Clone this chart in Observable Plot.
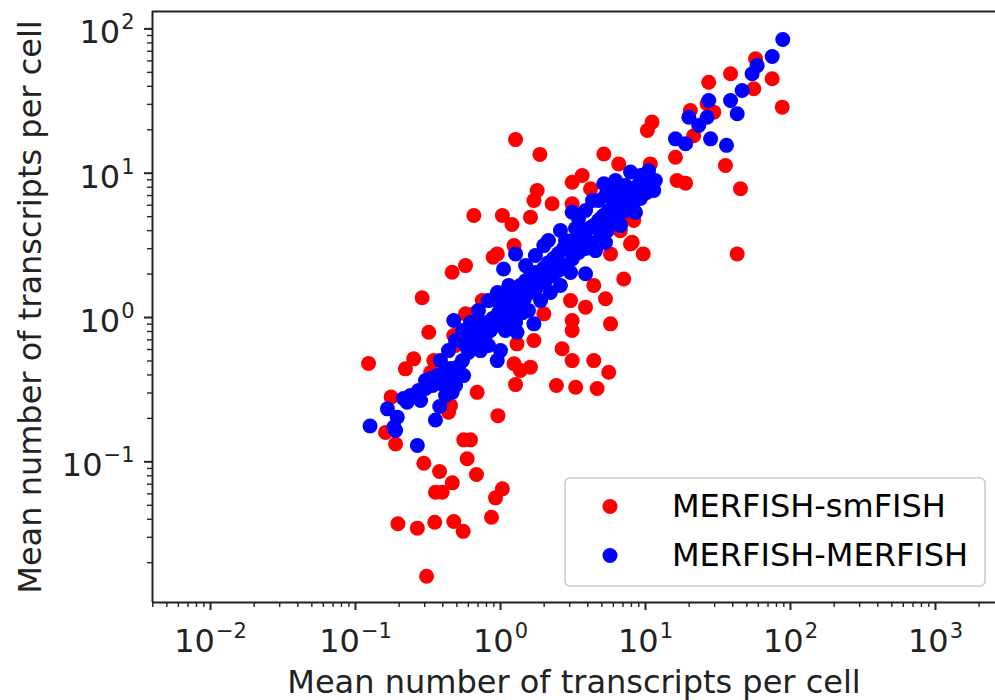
<!DOCTYPE html>
<html><head><meta charset="utf-8">
<script src="https://cdn.jsdelivr.net/npm/d3@7"></script>
<script src="https://cdn.jsdelivr.net/npm/@observablehq/plot@0.6"></script>
<style>body{margin:0;background:#fff}</style>
</head><body><div id="chart"></div>
<script>
const seriesNames = ["MERFISH-smFISH", "MERFISH-MERFISH"];
const seriesColors = ["#ff0000", "#0000ff"];
const axisLabel = "Mean number of transcripts per cell";
const xMajorTicks = [0.01, 0.1, 1, 10, 100, 1000];
const yMajorTicks = [0.1, 1, 10, 100];
const xDomain = [0.00398, 2594];
const yDomain = [0.0106, 132];

// MERFISH vs smFISH
const smfishX = [0.123,0.176,0.161,0.189,0.69,1.27,2.43,3.30,4.64,0.96,0.452,0.438,0.558,0.621,0.589,0.683,0.296,0.380,0.465,0.356,0.396,1.03,0.924,0.867,0.196,0.267,0.352,0.476,0.553,0.309,
1.27,1.87,5.16,6.54,11.1,10.3,16.1,16.5,18.9,3.66,3.12,4.18,1.79,1.70,1.61,2.27,0.655,1.03,1.20,3.12,7.28,7.88,9.64,5.74,7.08,4.40,5.30,1.24,0.89,0.95,0.464,0.574,0.288,0.748,1.03,3.04,3.86,3.12,3.12,5.74,1.70,2.66,3.12,4.40,5.58,1.24,1.61,1.37,0.32,0.476,0.252,0.221,0.347,0.574,0.655,1.99,1.30,10.8,6.04,8.3,
27.3,38.6,20.4,26.6,29.6,21.5,35.6,45.2,42.9,57.4,55.8,74.8,87.7,8.1,2.14,4.9,0.49,1.37,3.86,6.7,0.33,0.705];
const smfishY = [0.48,0.281,0.160,0.133,0.303,0.343,0.338,0.329,0.322,0.209,0.245,0.221,0.142,0.142,0.105,0.0817,0.0977,0.0857,0.0715,0.0615,0.0615,0.065,0.0563,0.0413,0.0372,0.0347,0.0381,0.0386,0.033,0.0161,
17.1,13.5,13.6,11.6,22.6,19.8,12.9,8.9,8.53,9.64,8.66,7.8,7.59,6.47,4.96,6.14,5.09,5.09,4.41,6.14,4.96,3.24,2.76,2.76,1.85,1.67,1.35,3.15,2.62,2.76,2.06,2.29,1.37,1.31,1.46,1.31,1.18,0.953,0.813,0.904,0.693,0.607,0.503,0.503,0.418,0.478,0.453,0.430,0.791,0.75,0.517,0.441,0.503,1.06,1.06,1.06,0.657,11.6,7.8,4.70,
42.7,48.9,27.2,30.3,26.5,18.2,11.3,7.8,2.76,62.1,38.5,45.1,28.7,3.32,2.12,4.85,0.64,1.31,3.42,4.0,0.416,0.81];

// MERFISH vs MERFISH
const merfishX = [0.126,0.166,0.194,0.184,0.189,0.267,0.356,0.381,0.227,0.267,0.464,0.304,0.340,0.385,0.431,0.49,1.27,1.05,1.99,0.476,2.59,3.12,3.86,5.16,6.21,7.88,10.5,11.4,1.0,0.95,1.30,1.70,
88.5,74.8,58.9,54.4,46.4,38.6,42.9,27.3,19.9,23.3,26.6,16.1,18.9,28.1,36.2,
0.214,0.239,0.272,0.304,0.329,0.368,0.411,0.452,0.513,0.556,0.49,0.418,0.281,
0.547,0.601,0.641,0.705,0.788,0.853,0.924,0.621,0.728,0.826,0.574,0.683,0.763,0.881,0.969,
1.0,1.08,1.17,1.27,1.37,1.49,1.61,1.74,1.07,1.21,1.33,1.46,1.61,1.77,1.89,1.14,1.42,
1.98,2.14,2.32,2.51,2.72,2.94,3.19,3.45,3.74,4.05,2.04,2.28,2.51,2.81,3.14,3.45,3.86,4.18,2.81,3.29,
4.38,4.74,5.13,5.56,6.01,6.52,7.05,7.64,8.26,8.95,9.69,4.90,5.47,5.92,6.52,7.28,8.13,9.24,10.2,10.8,11.7,4.74,5.30,5.74,6.73,9.24,
0.49,0.438,0.385,0.705,0.826,0.953,1.08,1.27,1.56,1.89,2.21,1.49,1.74,2.14,2.59,3.04,4.52,5.30,3.86,3.45,6.73,8.53,4.31,7.28,0.547,0.621];
const merfishY = [0.177,0.233,0.204,0.174,0.165,0.130,0.195,0.242,0.259,0.296,0.303,0.322,0.338,0.349,0.355,0.338,2.76,2.17,3.15,0.953,4.01,5.37,2.01,8.45,8.9,10.2,10.4,7.59,0.59,0.503,0.791,0.904,
84.5,64.4,55.7,48.9,37.4,31.9,25.8,31.9,24.4,21.4,24.4,17.3,16.0,17.3,15.6,
0.275,0.288,0.312,0.366,0.378,0.396,0.416,0.443,0.457,0.396,0.378,0.288,0.266,
0.503,0.572,0.64,0.693,0.75,0.813,0.88,0.715,0.59,0.64,0.64,0.839,0.923,0.984,1.08,
1.21,1.31,1.42,1.54,1.67,1.80,1.92,2.05,0.984,1.08,1.21,1.35,1.49,1.61,1.75,1.67,1.08,
2.19,2.40,2.56,2.78,3.01,3.21,3.42,3.64,3.88,4.14,1.80,1.95,2.12,2.29,2.56,2.82,3.01,3.31,3.42,4.14,
4.34,4.70,5.09,5.52,5.97,6.47,6.90,7.35,7.83,8.36,8.90,3.70,4.01,4.55,5.09,5.52,5.97,6.68,7.35,8.22,8.90,6.47,7.0,7.59,8.22,9.64,
0.693,0.59,0.503,1.12,1.31,1.49,0.813,0.923,1.12,1.31,1.49,2.29,2.69,3.42,1.67,2.05,2.91,3.31,5.52,4.85,4.34,5.35,6.47,8.22,0.813,0.923];

const smfish = smfishX.map((x, i) => ({x, y: smfishY[i]}));
const merfish = merfishX.map((x, i) => ({x, y: merfishY[i]}));

const xMinor = d3.scaleLog().domain(xDomain).ticks().filter(t => !xMajorTicks.some(m => Math.abs(m - t) / m < 1e-6));
const yMinor = d3.scaleLog().domain(yDomain).ticks().filter(t => !yMajorTicks.some(m => Math.abs(m - t) / m < 1e-6));
const expFormat = d => String(Math.round(Math.log10(d))).replace("-", "\u2212");
const ink = "#222";

const svg = Plot.plot({
  width: 995, height: 700,
  marginLeft: 152, marginRight: 0, marginTop: 11, marginBottom: 98,
  style: {fontFamily: "DejaVu Sans", fontSize: "32px", color: ink, background: "#fff", overflow: "visible"},
  x: {type: "log", domain: xDomain, axis: null, label: null},
  y: {type: "log", domain: yDomain, axis: null, label: null},
  marks: [
    Plot.dot(smfish, {x: "x", y: "y", r: 7.5, fill: seriesColors[0], stroke: "none"}),
    Plot.dot(merfish, {x: "x", y: "y", r: 7.5, fill: seriesColors[1], stroke: "none"}),
    Plot.ruleX([xDomain[0]], {stroke: ink, strokeWidth: 2}),
    Plot.ruleY([yDomain[0], yDomain[1]], {stroke: ink, strokeWidth: 2}),
    Plot.axisX({ticks: xMinor, tickFormat: () => "", tickSize: 5, strokeWidth: 1.4, stroke: ink, label: null}),
    Plot.axisY({ticks: yMinor, tickFormat: () => "", tickSize: 5, strokeWidth: 1.4, stroke: ink, label: null}),
    Plot.axisX({ticks: xMajorTicks, tickFormat: expFormat, tickSize: 8, tickPadding: 19, strokeWidth: 2, stroke: ink, fill: ink, label: null}),
    Plot.axisY({ticks: yMajorTicks, tickFormat: expFormat, tickSize: 8, tickPadding: 10, strokeWidth: 2, stroke: ink, fill: ink, label: null}),
    Plot.text([axisLabel], {frameAnchor: "bottom", dy: 90, lineAnchor: "bottom", textAnchor: "middle", fill: ink}),
    Plot.text([axisLabel], {frameAnchor: "left", dx: -112, rotate: -90, lineAnchor: "bottom", textAnchor: "middle", fill: ink})
  ]
});

// mathtext-like superscript exponents
d3.select(svg).selectAll('g[aria-label="x-axis tick label"] text, g[aria-label="y-axis tick label"] text').each(function() {
  const e = this.textContent;
  if (!e) return;
  const isY = this.parentNode.getAttribute("aria-label").startsWith("y");
  this.textContent = "10";
  d3.select(this).append("tspan").attr("font-size", "21px").attr("dx", 1).attr("dy", -14).text(e);
  if (isY) this.setAttribute("y", "0.45em");
});

// legend
const lg = d3.select(svg).append("g").attr("font-family", "DejaVu Sans").attr("font-size", 32).attr("text-anchor", "start");
lg.append("rect").attr("x", 565).attr("y", 478).attr("width", 420).attr("height", 108).attr("rx", 5)
  .attr("fill", "#fff").attr("fill-opacity", 0.8).attr("stroke", "#cccccc").attr("stroke-width", 1.6);
seriesNames.forEach((name, i) => {
  lg.append("circle").attr("cx", 610).attr("cy", 506.5 + 49 * i).attr("r", 7.5).attr("fill", seriesColors[i]);
  lg.append("text").attr("x", 672).attr("y", 517 + 49 * i).attr("text-anchor", "start").attr("fill", "#000").text(name);
});

document.getElementById("chart").appendChild(svg);
</script>
</body></html>
